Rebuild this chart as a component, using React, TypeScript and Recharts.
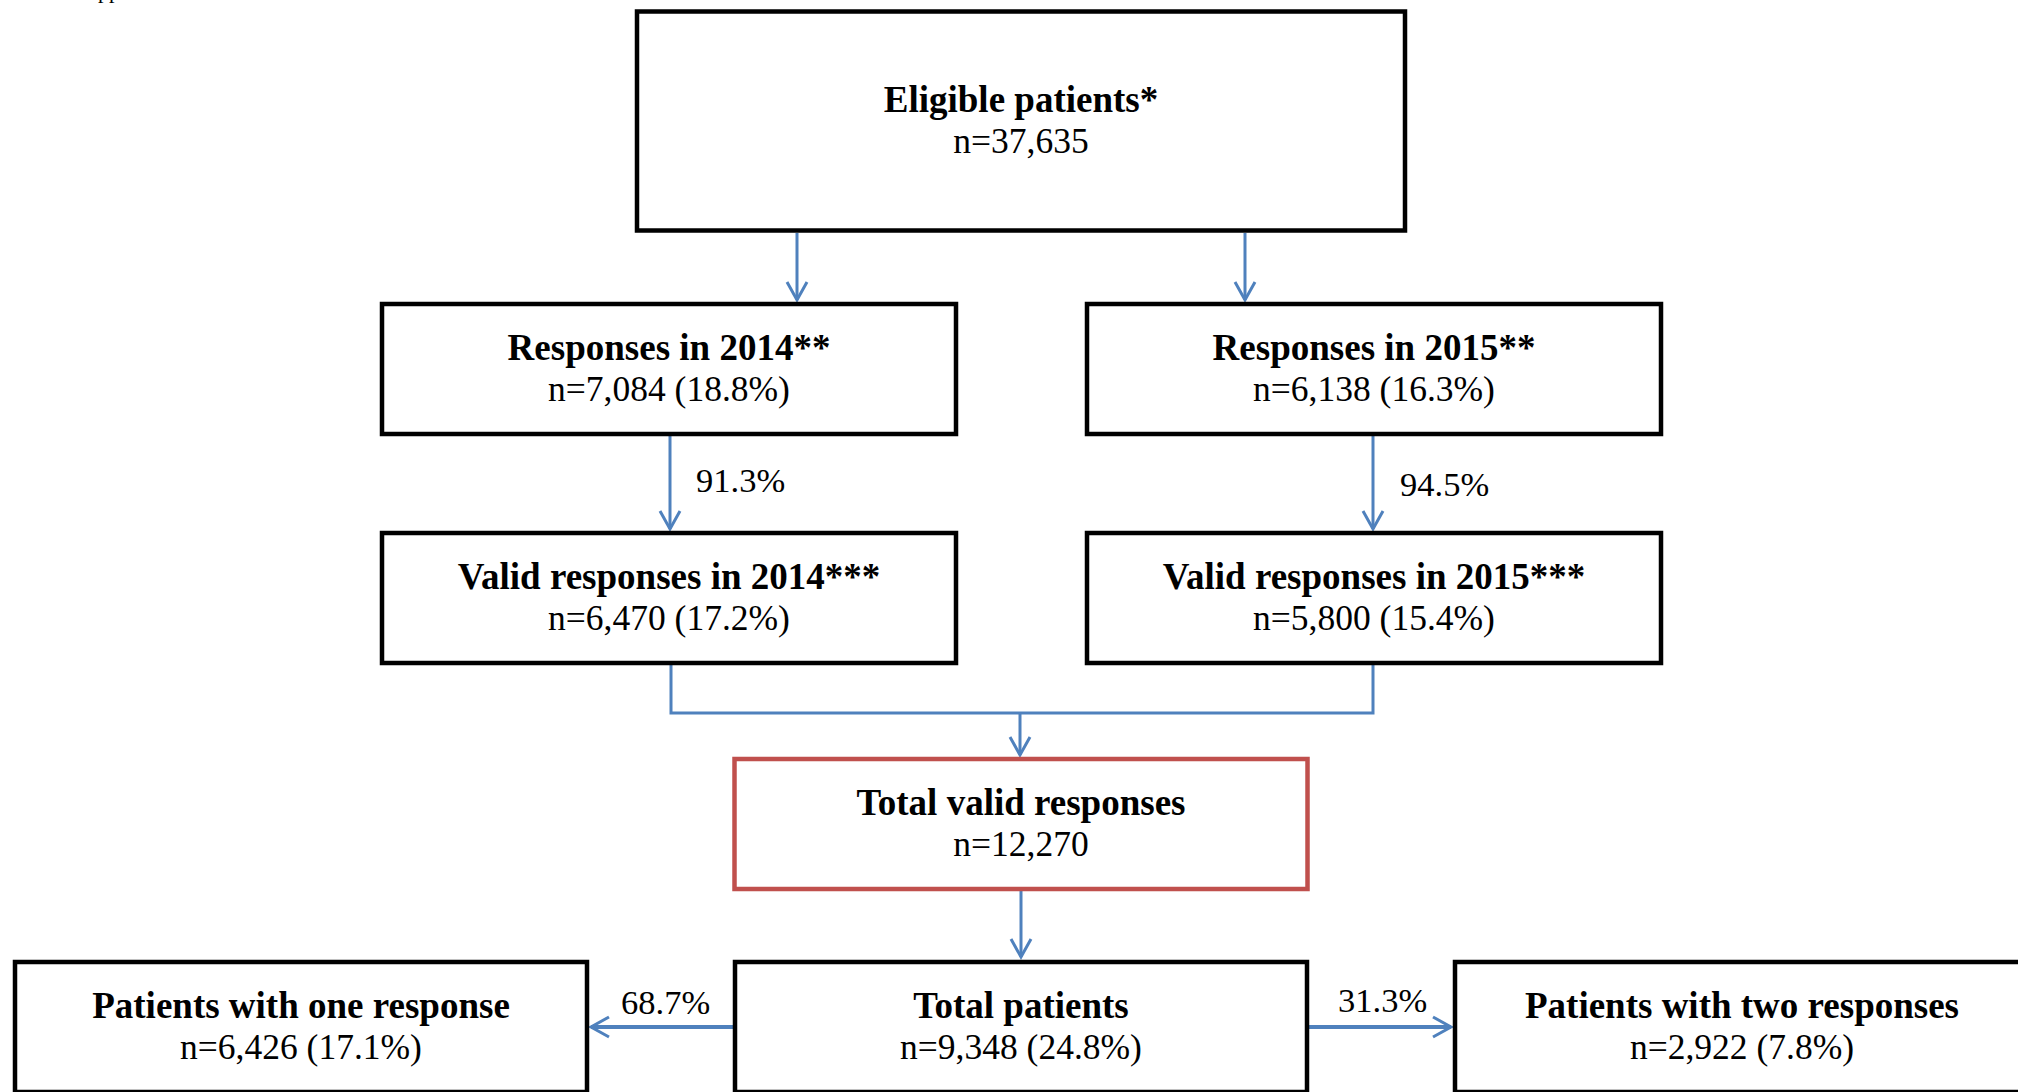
import { ScatterChart, Scatter, XAxis, YAxis } from "recharts";

// flowchart values
const nodeTitles = [
  "Eligible patients*",
  "Responses in 2014**",
  "Responses in 2015**",
  "Valid responses in 2014***",
  "Valid responses in 2015***",
  "Total valid responses",
  "Total patients",
  "Patients with one response",
  "Patients with two responses",
];
const nodeCounts = [37635, 7084, 6138, 6470, 5800, 12270, 9348, 6426, 2922];
const nodeShares: (number | null)[] = [null, 18.8, 16.3, 17.2, 15.4, null, 24.8, 17.1, 7.8];
const flowShares = [91.3, 94.5, 68.7, 31.3];

// layout in diagram units (1 unit = 1px, axes are hidden)
const W = 2018;
const H = 1092;
const nodeLayout = [
  { cx: 1021, cy: 121, w: 772, h: 223 },
  { cx: 669, cy: 369, w: 578, h: 134 },
  { cx: 1374, cy: 369, w: 578, h: 134 },
  { cx: 669, cy: 598, w: 578, h: 134 },
  { cx: 1374, cy: 598, w: 578, h: 134 },
  { cx: 1021, cy: 824, w: 577, h: 134, red: true },
  { cx: 1021, cy: 1027, w: 576, h: 134 },
  { cx: 301, cy: 1027, w: 576, h: 134 },
  { cx: 1742, cy: 1027, w: 578, h: 134 },
];
const edgeLayout: { pts: number[][]; head: boolean; width?: number }[] = [
  { pts: [[797, 233], [797, 300]], head: true },
  { pts: [[1245, 233], [1245, 300]], head: true },
  { pts: [[670, 436], [670, 529]], head: true },
  { pts: [[1373, 436], [1373, 529]], head: true },
  { pts: [[671, 665], [671, 713], [1373, 713], [1373, 665]], head: false },
  { pts: [[1020, 713], [1020, 755]], head: true },
  { pts: [[1021, 891], [1021, 957]], head: true },
  { pts: [[733, 1027], [591, 1027]], head: true, width: 4 },
  { pts: [[1309, 1027], [1451, 1027]], head: true, width: 4 },
];
const flowLabelLayout = [
  { x: 696, y: 492 },
  { x: 1400, y: 496 },
  { x: 621, y: 1014 },
  { x: 1338, y: 1012 },
];

const FONT = "'Liberation Serif', 'DejaVu Serif', serif";
const BLUE = "#4F81BD";

const nodes = nodeLayout.map((l, i) => ({
  x: l.cx,
  y: l.cy,
  ...l,
  title: nodeTitles[i],
  sub:
    `n=${nodeCounts[i].toLocaleString("en-US")}` +
    (nodeShares[i] != null ? ` (${(nodeShares[i] as number).toFixed(1)}%)` : ""),
}));

const flowLabels = flowLabelLayout.map((l, i) => ({ ...l, text: `${flowShares[i].toFixed(1)}%` }));

const edges = edgeLayout.map((e) =>
  e.pts.map((p, j) => {
    const last = j === e.pts.length - 1;
    const prev = e.pts[Math.max(0, j - 1)];
    const dx = p[0] - prev[0];
    const dy = p[1] - prev[1];
    const len = Math.hypot(dx, dy) || 1;
    return { x: p[0], y: p[1], tip: last && e.head, ux: dx / len, uy: dy / len };
  })
);

const NodeBox = (props: any) => {
  const { cx, cy, payload } = props;
  const { w, h, red, title, sub } = payload;
  return (
    <g>
      <rect
        x={cx - w / 2 + 2}
        y={cy - h / 2 + 2}
        width={w - 4}
        height={h - 4}
        fill="#fff"
        stroke={red ? "#C0504D" : "#000"}
        strokeWidth={4.5}
      />
      <text x={cx} y={cy - 9} textAnchor="middle" fontFamily={FONT} fontWeight="bold" fontSize={37} fill="#000">
        {title}
      </text>
      <text x={cx} y={cy + 32} textAnchor="middle" fontFamily={FONT} fontSize={35.5} fill="#000">
        {sub}
      </text>
    </g>
  );
};

const ArrowHead = (props: any) => {
  const { cx, cy, payload } = props;
  if (!payload.tip) return <g />;
  const { ux, uy } = payload;
  const bx = cx - ux * 18;
  const by = cy - uy * 18;
  const px = -uy * 10;
  const py = ux * 10;
  return (
    <polyline
      points={`${bx + px},${by + py} ${cx},${cy} ${bx - px},${by - py}`}
      fill="none"
      stroke={BLUE}
      strokeWidth={3}
    />
  );
};

const FlowLabel = (props: any) => {
  const { cx, cy, payload } = props;
  return (
    <text x={cx} y={cy} fontFamily={FONT} fontSize={34.5} fill="#000">
      {payload.text}
    </text>
  );
};

export default function App() {
  return (
    <div style={{ position: "absolute", left: 0, top: 0, width: W, height: H, background: "#fff", overflow: "hidden" }}>
      <ScatterChart width={W} height={H} margin={{ top: 0, right: 0, bottom: 0, left: 0 }}>
        <XAxis type="number" dataKey="x" domain={[0, W]} hide />
        <YAxis type="number" dataKey="y" domain={[0, H]} reversed hide />
        <text x={82} y={-2} fontFamily={FONT} fontSize={22} fill="#000">
          Appendix
        </text>
        {edges.map((pts, i) => (
          <Scatter
            key={`edge-${i}`}
            data={pts}
            line={{ stroke: BLUE, strokeWidth: edgeLayout[i].width ?? 3 }}
            lineType="joint"
            shape={ArrowHead}
            isAnimationActive={false}
          />
        ))}
        <Scatter data={nodes} shape={NodeBox} isAnimationActive={false} />
        <Scatter data={flowLabels} shape={FlowLabel} isAnimationActive={false} />
      </ScatterChart>
    </div>
  );
}
